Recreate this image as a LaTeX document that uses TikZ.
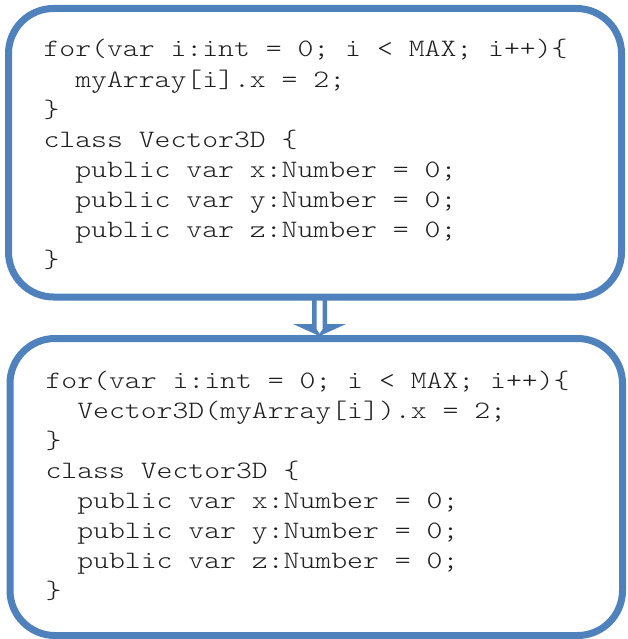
\documentclass[tikz,border=0pt]{standalone}
\usepackage{fontspec}
\setmonofont{Latin Modern Mono Light}
\usetikzlibrary{calc}
\definecolor{boxblue}{HTML}{4F81BD}
\definecolor{codeink}{HTML}{1E1E1E}
\newcommand\ind{\hphantom{xx}}
% one listing line, widened to a Courier-like character pitch
\newcommand\codetext[1]{\scalebox{1.21}[1]{#1}}
\begin{document}
\begin{tikzpicture}[x=1pt,y=-1pt,
  codebox/.style={draw=boxblue,line width=7pt,rounded corners=45pt,
    rectangle,inner sep=0pt,fill=none},
  codeline/.style={anchor=base west,inner sep=0pt,outer sep=0pt,text=codeink,
    font=\ttfamily\fontsize{25}{30}\selectfont}]
  % canvas
  \fill[white] (0,0) rectangle (627,639);
  \useasboundingbox (0,0) rectangle (627,639);

  % block arrow between the two listings (drawn first, the frames sit on top)
  \coordinate (arrowtop) at (319.5,297);
  \coordinate (arrowtip) at (319.5,336);
  \fill[boxblue] ($(arrowtop)+(-7.5,0)$) -- ($(arrowtip)+(-7.5,-12)$)
     -- ($(arrowtip)+(-26.5,-12)$) -- (arrowtip) -- ($(arrowtip)+(26.5,-12)$)
     -- ($(arrowtip)+(7.5,-12)$) -- ($(arrowtop)+(7.5,0)$) -- cycle;
  \fill[white] ($(arrowtop)+(-3,2)$) -- ($(arrowtip)+(-3,-7)$)
     -- ($(arrowtip)+(0,-2.5)$) -- ($(arrowtip)+(3,-7)$) -- ($(arrowtop)+(3,2)$) -- cycle;

  % frames
  \node[codebox,minimum width=613pt,minimum height=288.5pt] (before) at (315,152.75) {};
  \node[codebox,minimum width=612.5pt,minimum height=297pt] (after) at (316.25,487) {};

  % original listing
  \node[codeline] (t1) at (43.5,57.0)  {\codetext{for(var i:int = 0; i < MAX; i++)\{}};
  \node[codeline] (t2) at (43.5,87.05) {\codetext{\ind myArray[i].x = 2;}};
  \node[codeline] (t3) at (43.5,117.1) {\codetext{\}}};
  \node[codeline] (t4) at (43.5,147.15) {\codetext{class Vector3D \{}};
  \node[codeline] (t5) at (43.5,177.2) {\codetext{\ind public var x:Number = 0;}};
  \node[codeline] (t6) at (43.5,207.25) {\codetext{\ind public var y:Number = 0;}};
  \node[codeline] (t7) at (43.5,237.3) {\codetext{\ind public var z:Number = 0;}};
  \node[codeline] (t8) at (43.5,267.35) {\codetext{\}}};

  % listing with the explicit cast
  \node[codeline] (b1) at (45.5,388.0)  {\codetext{for(var i:int = 0; i < MAX; i++)\{}};
  \node[codeline] (b2) at (45.5,418.1) {\codetext{\ind Vector3D(myArray[i]).x = 2;}};
  \node[codeline] (b3) at (45.5,448.2) {\codetext{\}}};
  \node[codeline] (b4) at (45.5,478.3) {\codetext{class Vector3D \{}};
  \node[codeline] (b5) at (45.5,508.4) {\codetext{\ind public var x:Number = 0;}};
  \node[codeline] (b6) at (45.5,538.5) {\codetext{\ind public var y:Number = 0;}};
  \node[codeline] (b7) at (45.5,568.6) {\codetext{\ind public var z:Number = 0;}};
  \node[codeline] (b8) at (45.5,598.7) {\codetext{\}}};
\end{tikzpicture}
\end{document}
